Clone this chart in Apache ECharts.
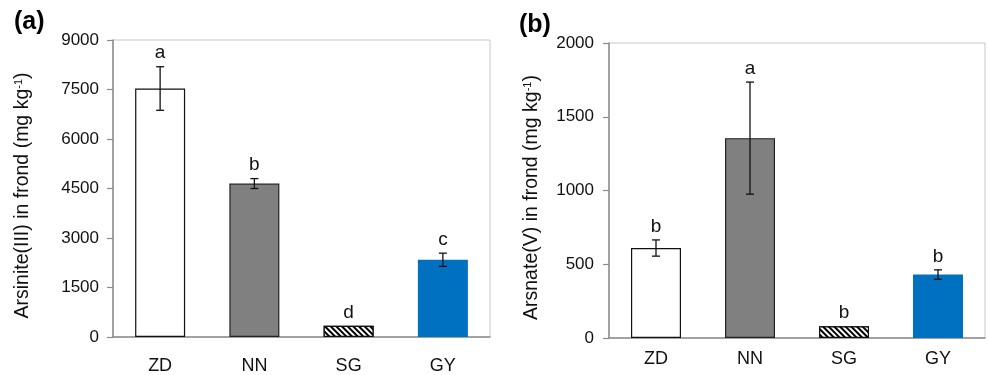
<!DOCTYPE html>
<html>
<head>
<meta charset="utf-8">
<script src="https://cdn.jsdelivr.net/npm/echarts@6/dist/echarts.min.js"></script>
<style>
  html, body { margin: 0; padding: 0; background: #fff; }
  #chart { width: 988px; height: 375px; }
</style>
</head>
<body>
<div id="chart"></div>
<script>
// data
const sites = ['ZD', 'NN', 'SG', 'GY'];
const arsinite = [7530, 4650, 340, 2340];
const arsiniteErr = [660, 150, 0, 200];
const arsiniteLetters = ['a', 'b', 'd', 'c'];
const arsnate = [610, 1355, 80, 430];
const arsnateErr = [55, 380, 0, 32];
const arsnateLetters = ['b', 'a', 'b', 'b'];

const chart = echarts.init(document.getElementById('chart'));
const FONT = 'Liberation Sans, Arial, sans-serif';

// bar looks: white, grey, hatched, blue
const barStyles = [
  { color: '#ffffff', borderColor: '#111', borderWidth: 1.2 },
  { color: '#808080', borderColor: '#222', borderWidth: 1.2 },
  {
    color: '#ffffff', borderColor: '#111', borderWidth: 1.2,
    decal: {
      symbol: 'rect', symbolSize: 1, rotation: Math.PI / 4,
      dashArrayX: [1, 0], dashArrayY: [2, 2],
      color: '#000', backgroundColor: '#fff'
    }
  },
  { color: '#0070C0', borderWidth: 0 }
];

function barData(vals) {
  return vals.map((v, i) => ({ value: v, itemStyle: barStyles[i] }));
}

function errorSeries(idx, vals, errs, letters) {
  return {
    type: 'custom',
    xAxisIndex: idx,
    yAxisIndex: idx,
    z: 5,
    data: vals.map((v, i) => [i, v, errs[i]]),
    encode: { x: 0, y: 1 },
    renderItem: function (params, api) {
      const x = api.value(0), m = api.value(1), e = api.value(2);
      const hi = api.coord([x, m + e]);
      const lo = api.coord([x, m - e]);
      const cap = 4;
      const st = { stroke: '#111', lineWidth: 1.3 };
      const kids = [];
      if (e > 0) {
        kids.push(
          { type: 'line', shape: { x1: hi[0], y1: hi[1], x2: lo[0], y2: lo[1] }, style: st },
          { type: 'line', shape: { x1: hi[0] - cap, y1: hi[1], x2: hi[0] + cap, y2: hi[1] }, style: st },
          { type: 'line', shape: { x1: lo[0] - cap, y1: lo[1], x2: lo[0] + cap, y2: lo[1] }, style: st }
        );
      }
      kids.push({
        type: 'text',
        style: {
          x: hi[0], y: hi[1] - 4,
          text: letters[params.dataIndex],
          fill: '#111', font: '19px ' + FONT,
          align: 'center', verticalAlign: 'bottom'
        }
      });
      return { type: 'group', children: kids };
    }
  };
}

function xAxisCfg(idx) {
  return {
    type: 'category',
    gridIndex: idx,
    data: sites,
    axisLine: { lineStyle: { color: '#8c8c8c', width: 1.5 } },
    axisTick: { show: false },
    axisLabel: { color: '#111', fontSize: 18, fontFamily: FONT, margin: idx === 0 ? 20 : 12 }
  };
}

function yAxisCfg(idx, max, step, name, gap, labelGap) {
  return {
    type: 'value',
    gridIndex: idx,
    min: 0, max: max, interval: step,
    name: name,
    nameLocation: 'middle',
    nameGap: gap,
    nameTextStyle: {
      color: '#111', fontSize: 19.5, fontFamily: FONT, padding: [0, 14, 0, 0],
      rich: { sup: { fontSize: 11, verticalAlign: 'top', color: '#111', padding: [0, 0, 9, 0] } }
    },
    axisLine: { show: true, lineStyle: { color: '#8c8c8c', width: 1.5 } },
    axisTick: { show: true, length: 6, lineStyle: { color: '#8c8c8c', width: 1.2 } },
    axisLabel: { color: '#111', fontSize: 17, fontFamily: FONT, margin: labelGap, formatter: v => String(v) },
    splitLine: { show: false }
  };
}

chart.setOption({
  animation: false,
  title: [
    { text: '(a)', left: 9, top: 5, textStyle: { fontSize: 25, fontWeight: 'bold', color: '#000', fontFamily: FONT } },
    { text: '(b)', left: 514, top: 8, textStyle: { fontSize: 25, fontWeight: 'bold', color: '#000', fontFamily: FONT } }
  ],
  grid: [
    { left: 113, top: 40, right: 498, bottom: 37, show: true, borderColor: '#c8c8c8', borderWidth: 1 },
    { left: 609, top: 43, right: 3, bottom: 37, show: true, borderColor: '#c8c8c8', borderWidth: 1 }
  ],
  xAxis: [xAxisCfg(0), xAxisCfg(1)],
  yAxis: [
    yAxisCfg(0, 9000, 1500, 'Arsinite(III) in frond (mg kg{sup|-1})', 80, 14),
    yAxisCfg(1, 2000, 500, 'Arsnate(V) in frond (mg kg{sup|-1})', 67, 15)
  ],
  series: [
    { type: 'bar', xAxisIndex: 0, yAxisIndex: 0, barWidth: 50, data: barData(arsinite) },
    errorSeries(0, arsinite, arsiniteErr, arsiniteLetters),
    { type: 'bar', xAxisIndex: 1, yAxisIndex: 1, barWidth: 50, data: barData(arsnate) },
    errorSeries(1, arsnate, arsnateErr, arsnateLetters)
  ]
});
</script>
</body>
</html>
